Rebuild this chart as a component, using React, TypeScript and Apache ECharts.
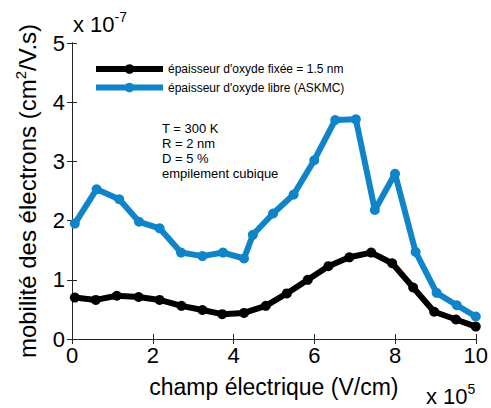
import React, { useEffect, useRef } from "react";
import * as echarts from "echarts";

const blackX = [0.07, 0.59, 1.11, 1.65, 2.17, 2.71, 3.23, 3.72, 4.26, 4.8, 5.32, 5.84, 6.35, 6.87, 7.41, 7.93, 8.45, 8.97, 9.51, 10.0];
const blackY = [0.7, 0.66, 0.73, 0.71, 0.66, 0.56, 0.49, 0.42, 0.44, 0.56, 0.77, 1.0, 1.23, 1.38, 1.46, 1.28, 0.87, 0.46, 0.33, 0.21];

const blueX = [0.07, 0.61, 1.17, 1.66, 2.17, 2.7, 3.23, 3.74, 4.26, 4.48, 4.98, 5.49, 6.0, 6.52, 7.03, 7.5, 8.0, 8.51, 9.03, 9.53, 10.0];
const blueY = [1.95, 2.53, 2.36, 1.98, 1.87, 1.46, 1.4, 1.46, 1.36, 1.76, 2.12, 2.44, 3.02, 3.7, 3.71, 2.18, 2.79, 1.47, 0.78, 0.57, 0.38];

const seriesNames = ["épaisseur d'oxyde fixée = 1.5 nm", "épaisseur d'oxyde libre (ASKMC)"];
const annotations = ["T = 300 K", "R = 2 nm", "D = 5 %", "empilement cubique"];

const FONT = "Liberation Sans, Arial, sans-serif";
const BLUE = "#0f84c8";

export default function App() {
  const ref = useRef<HTMLDivElement>(null);
  useEffect(() => {
    if (!ref.current) return;
    const chart = echarts.init(ref.current, null, { renderer: "svg" });
    const axisCommon = {
      axisLine: { show: true, lineStyle: { color: "#262626", width: 1 } },
      axisTick: { show: true, inside: true, length: 5, lineStyle: { color: "#262626" } },
      splitLine: { show: false },
    };
    chart.setOption({
      animation: false,
      textStyle: { fontFamily: FONT },
      grid: { left: 72, right: 13, top: 43, bottom: 69, containLabel: false },
      xAxis: [
        {
          type: "value", min: 0, max: 10, interval: 2, position: "bottom",
          ...axisCommon,
          axisLabel: { color: "#000", fontSize: 22, margin: 5, fontFamily: FONT },
          name: "champ électrique (V/cm)", nameLocation: "middle", nameGap: 36,
          nameTextStyle: { color: "#000", fontSize: 23, fontFamily: FONT },
        },
        {
          type: "value", min: 0, max: 10, interval: 2, position: "top",
          ...axisCommon, axisLabel: { show: false },
        },
      ],
      yAxis: [
        {
          type: "value", min: 0, max: 5, interval: 1, position: "left",
          ...axisCommon,
          axisLabel: { color: "#000", fontSize: 22, margin: 7, fontFamily: FONT },
          name: "mobilité des électrons (cm{s|2}/V.s)", nameLocation: "middle", nameGap: 31,
          nameTextStyle: {
            color: "#000", fontSize: 24, fontFamily: FONT,
            rich: { s: { fontSize: 15, verticalAlign: "top", padding: [0, 0, 13, 0], fontFamily: FONT } },
          },
        },
        {
          type: "value", min: 0, max: 5, interval: 1, position: "right",
          ...axisCommon, axisLabel: { show: false },
        },
      ],
      legend: {
        show: true,
        orient: "vertical",
        left: 88, top: 58,
        itemWidth: 67, itemHeight: 12, itemGap: 6.5,
        lineStyle: { width: 6 },
        textStyle: { fontSize: 12, color: "#000", fontFamily: FONT },
        data: seriesNames,
      },
      graphic: [
        {
          type: "text", left: 162, top: 121,
          style: { text: annotations.join("\n"), fontSize: 13, lineHeight: 15, fill: "#000", fontFamily: FONT },
        },
        {
          type: "text", left: 73, top: 10,
          style: {
            text: "x 10{s|-7}", fontSize: 22, fill: "#000", fontFamily: FONT,
            rich: { s: { fontSize: 14, verticalAlign: "top", padding: [0, 0, 14, 0], fontFamily: FONT } },
          },
        },
        {
          type: "text", left: 426, top: 382,
          style: {
            text: "x 10{s|5}", fontSize: 22, fill: "#000", fontFamily: FONT,
            rich: { s: { fontSize: 14, verticalAlign: "top", padding: [0, 0, 14, 0], fontFamily: FONT } },
          },
        },
      ],
      series: [
        {
          name: seriesNames[0], type: "line",
          data: blackX.map((x, i) => [x, blackY[i]]),
          symbol: "circle", symbolSize: 10, showSymbol: true,
          lineStyle: { color: "#000", width: 6 },
          itemStyle: { color: "#000" },
        },
        {
          name: seriesNames[1], type: "line",
          data: blueX.map((x, i) => [x, blueY[i]]),
          symbol: "circle", symbolSize: 10, showSymbol: true,
          lineStyle: { color: BLUE, width: 6 },
          itemStyle: { color: BLUE },
        },
      ],
    });
    return () => chart.dispose();
  }, []);
  return <div ref={ref} style={{ width: 491, height: 408, position: "absolute", left: 0, top: 0, background: "#fff" }} />;
}
